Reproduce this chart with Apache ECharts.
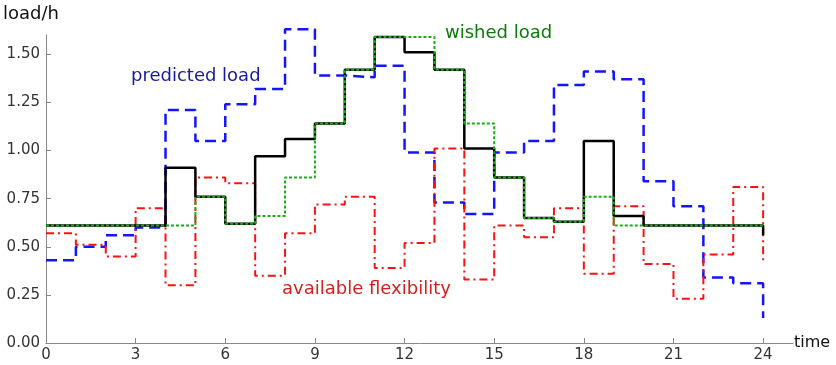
<!DOCTYPE html>
<html>
<head>
<meta charset="utf-8">
<script src="https://cdn.jsdelivr.net/npm/echarts@6/dist/echarts.min.js"></script>
<style>html,body{margin:0;padding:0;background:#fff;}#c{width:836px;height:365px;}</style>
</head>
<body>
<div id="c"></div>
<script>
var hours = [0,1,2,3,4,5,6,7,8,9,10,11,12,13,14,15,16,17,18,19,20,21,22,23,24];
var xTicks = [0,3,6,9,12,15,18,21,24];
var yTicks = [0,0.25,0.5,0.75,1.0,1.25,1.5];
var scheduledLoad = [0.61,0.61,0.61,0.61,0.91,0.76,0.62,0.97,1.06,1.14,1.42,1.59,1.51,1.42,1.01,0.86,0.65,0.63,1.05,0.66,0.61,0.61,0.61,0.61,0.56];
var wishedLoad = [0.61,0.61,0.61,0.61,0.61,0.76,0.62,0.66,0.86,1.14,1.42,1.59,1.59,1.42,1.14,0.86,0.65,0.63,0.76,0.61,0.61,0.61,0.61,0.61,0.61];
var predictedLoad = [0.43,0.50,0.56,0.60,1.21,1.05,1.24,1.32,1.63,1.39,1.38,1.44,0.99,0.73,0.67,0.99,1.05,1.34,1.41,1.37,0.84,0.71,0.34,0.31,0.13];
var availableFlexibility = [0.57,0.51,0.45,0.70,0.30,0.86,0.83,0.35,0.57,0.72,0.76,0.39,0.52,1.01,0.33,0.61,0.55,0.70,0.36,0.71,0.41,0.23,0.46,0.81,0.43];

function pairs(v){ return hours.map(function(h,i){ return [h, v[i]]; }); }

var chart = echarts.init(document.getElementById('c'), null, {renderer:'canvas'});
var FONT = 'DejaVu Sans';
function lineSeries(name, data, color, width, type, z){
  return {
    name: name, type: 'line', step: 'end', data: pairs(data), clip: false,
    showSymbol: false, symbol: 'none', animation: false, z: z,
    lineStyle: {color: color, width: width, type: type, cap: 'butt'}
  };
}
chart.setOption({
  animation: false,
  grid: {left: 46, right: 43, top: 35, bottom: 22},
  xAxis: {
    type: 'value', min: 0, max: 25, interval: 3,
    name: 'time', nameLocation: 'end', nameGap: 1,
    nameTextStyle: {fontFamily: FONT, fontSize: 16, color: '#111', verticalAlign: 'middle', align: 'left'},
    axisLine: {lineStyle: {color: '#888', width: 1}},
    axisTick: {inside: true, length: 5, lineStyle: {color: '#888'}, customValues: xTicks},
    axisLabel: {customValues: xTicks, fontFamily: FONT, fontSize: 15, color: '#333', margin: 5},
    splitLine: {show: false}
  },
  yAxis: {
    type: 'value', min: 0, max: 1.6, interval: 0.25,
    axisLine: {show: true, lineStyle: {color: '#888', width: 1}},
    axisTick: {show: true, inside: true, length: 5, lineStyle: {color: '#888'}, customValues: yTicks},
    axisLabel: {customValues: yTicks, fontFamily: FONT, fontSize: 15, color: '#333', margin: 6,
      formatter: function(v){ return v.toFixed(2); }},
    splitLine: {show: false}
  },
  graphic: [
    {type: 'text', left: 3, top: 5, style: {text: 'load/h', font: '18px "DejaVu Sans"', fill: '#111'}},
    {type: 'text', x: 131, y: 76, style: {text: 'predicted load', font: '18px "DejaVu Sans"', fill: '#1a1a9e', verticalAlign: 'middle'}},
    {type: 'text', x: 445, y: 33, style: {text: 'wished load', font: '18px "DejaVu Sans"', fill: '#0c7a0c', verticalAlign: 'middle'}},
    {type: 'text', x: 282, y: 289, style: {text: 'available flexibility', font: '18px "DejaVu Sans"', fill: '#d61f1f', verticalAlign: 'middle'}}
  ],
  series: [
    lineSeries('predicted load', predictedLoad, '#1414ff', 2.5, [11,6], 1),
    lineSeries('available flexibility', availableFlexibility, '#ff1010', 2, [8,4,2,4], 2),
    lineSeries('scheduled load', scheduledLoad, '#000000', 2.5, 'solid', 3),
    lineSeries('wished load', wishedLoad, '#16b016', 2, [3,2], 4)
  ]
});
</script>
</body>
</html>
